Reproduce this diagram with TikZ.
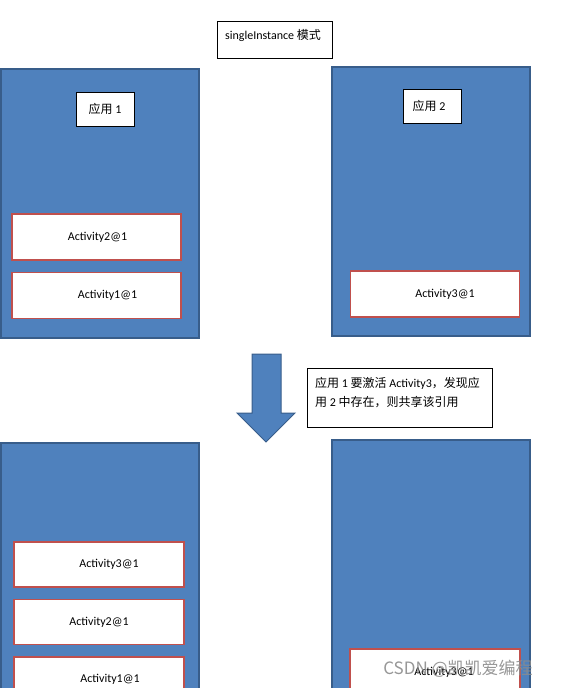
\documentclass[tikz,border=0pt]{standalone}
\usepackage{fontspec}
\setmainfont{Carlito}
\newfontfamily\cjk{Noto Sans CJK SC}
\usetikzlibrary{positioning}
\definecolor{appblue}{HTML}{4F81BD}
\definecolor{appedge}{HTML}{385D8A}
\definecolor{actred}{HTML}{C0504D}

\begin{document}
\begin{tikzpicture}[x=1pt,y=-1pt,
                    font=\fontsize{12}{19}\selectfont,
                    panel/.style={fill=appblue,draw=appedge,line width=1.5pt},
                    actbox/.style={draw=actred,fill=white,line width=1.5pt,
                                   minimum width=169pt,minimum height=46pt,inner sep=0pt},
                    tag/.style={draw=black,fill=white,line width=0.8pt,inner sep=0pt},
                    node distance=11pt]
                    \useasboundingbox (0,0) rectangle (560,688);
                    \clip (0,0) rectangle (560,688);

                    % title
                    \node[tag,minimum width=115pt,minimum height=37pt] (title) at (274.5,39.5) {};
                    \node (titletext) at (273,35) {singleInstance {\cjk 模式}};

                    % before: app 1 and app 2
                    \draw[panel] (1,69) rectangle (199,338);
                    \node[tag,minimum width=58pt,minimum height=34pt] (app1) at (105,109) {{\cjk 应用} 1};
                    \node[actbox] (act2a) at (96.5,237) {\hspace*{2pt}Activity2@1};
                    \node[actbox,below=of act2a] (act1a) {\hspace*{22pt}Activity1@1};

                    \draw[panel] (332,67) rectangle (530,336);
                    \node[tag,minimum width=58pt,minimum height=34pt] (app2) at (432,106) {\hspace*{-6pt}{\cjk 应用} 2};
                    \node[actbox] (act3a) at (435,294) {\hspace*{20pt}Activity3@1};

                    % step
                    \draw[panel,line width=1pt] (252,354) -- (281,354) -- (281,413) -- (295,413)
                        -- (266,442) -- (237,413) -- (252,413) -- cycle;
                    \node[tag,minimum width=185pt,minimum height=59pt] (note) at (399.5,397.5) {};
                    \node[align=left,anchor=west,inner sep=0pt] (notetext) at (315,392.5)
                        {{\cjk 应用} 1 {\cjk 要激活} Activity3{\cjk ，发现应}\\{\cjk 用} 2 {\cjk 中存在，则共享该引用}};

                    % after
                    \draw[panel] (1,443) rectangle (199,700);
                    \node[actbox,minimum width=170pt,minimum height=45pt] (act3b) at (99,564.5) {\hspace*{20pt}Activity3@1};
                    \node[actbox,minimum width=170pt,minimum height=45pt,below=of act3b] (act2b) {Activity2@1};
                    \node[actbox,minimum width=170pt,minimum height=45pt,below=of act2b] (act1b) {\hspace*{22pt}Activity1@1};

                    \draw[panel] (332,440) rectangle (530,700);
                    \node[actbox,minimum width=170pt] (act3c) at (435,672) {\hspace*{18pt}Activity3@1};

                    \node[font=\cjk\fontsize{17}{17}\selectfont,text=black!45,opacity=0.9] (mark) at (458,669) {CSDN @凯凯爱编程};
\end{tikzpicture}
\end{document}
